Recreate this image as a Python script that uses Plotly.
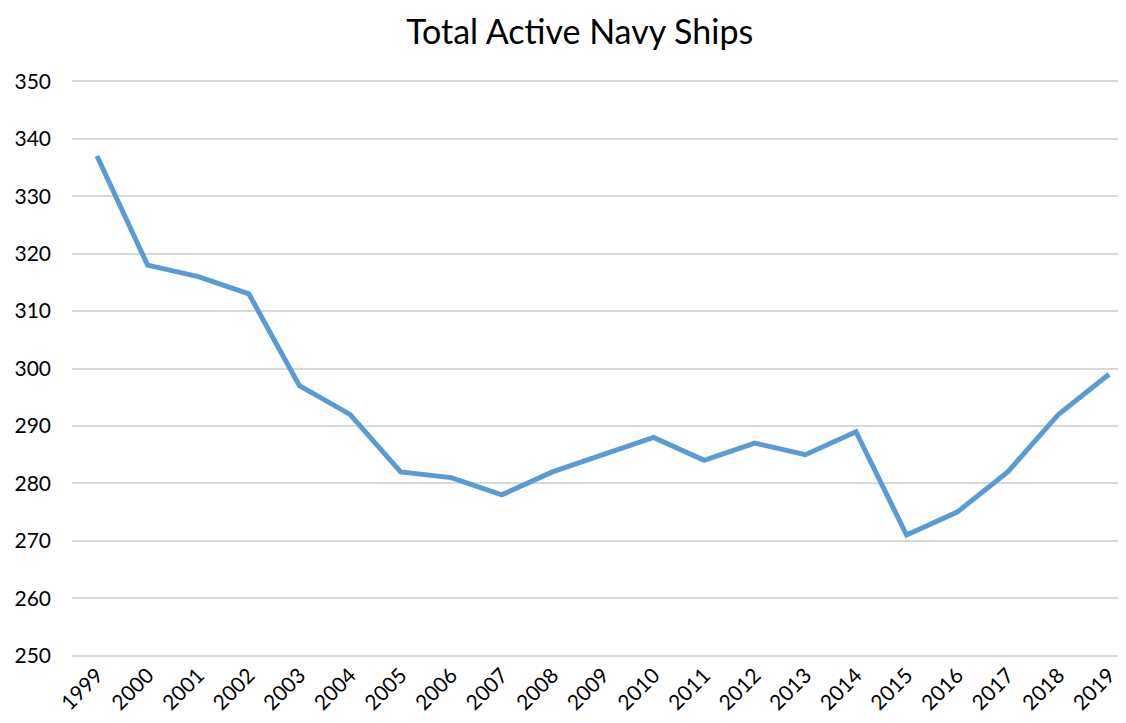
import plotly.graph_objects as go

years = list(range(1999, 2020))
ships = [337, 318, 316, 313, 297, 292, 282, 281, 278, 282, 285, 288, 284, 287, 285, 289, 271, 275, 282, 292, 299]
y_ticks = [250, 260, 270, 280, 290, 300, 310, 320, 330, 340, 350]

fig = go.Figure()
fig.add_trace(go.Scatter(x=years, y=ships, mode="lines",
                         line=dict(color="#5B9BD5", width=5),
                         hoverinfo="x+y"))

fig.update_layout(
    width=1110, height=707,
    paper_bgcolor="white", plot_bgcolor="white",
    margin=dict(l=64, r=0, t=71, b=57),
    font=dict(family="Lato, Open Sans, sans-serif", color="#000000", size=22),
    title=dict(text="Total Active Navy Ships", x=0.515, xanchor="center",
               y=0.966, yanchor="middle", font=dict(size=34, color="#000000")),
    showlegend=False,
    xaxis=dict(range=[1998.506, 2019.178], tickmode="array", tickvals=years,
               ticktext=[str(y) for y in years], tickangle=-45,
               showgrid=False, zeroline=False, showline=False, ticks="",
               ticklabeloverflow="allow", tickfont=dict(size=21)),
    yaxis=dict(range=[249.6, 350.4], tickvals=y_ticks, showgrid=True,
               gridcolor="#D9D9D9", gridwidth=1.5, zeroline=False, showline=False,
               ticks="", ticklabelstandoff=20, tickfont=dict(size=21)),
)

fig.write_html("out.html")
